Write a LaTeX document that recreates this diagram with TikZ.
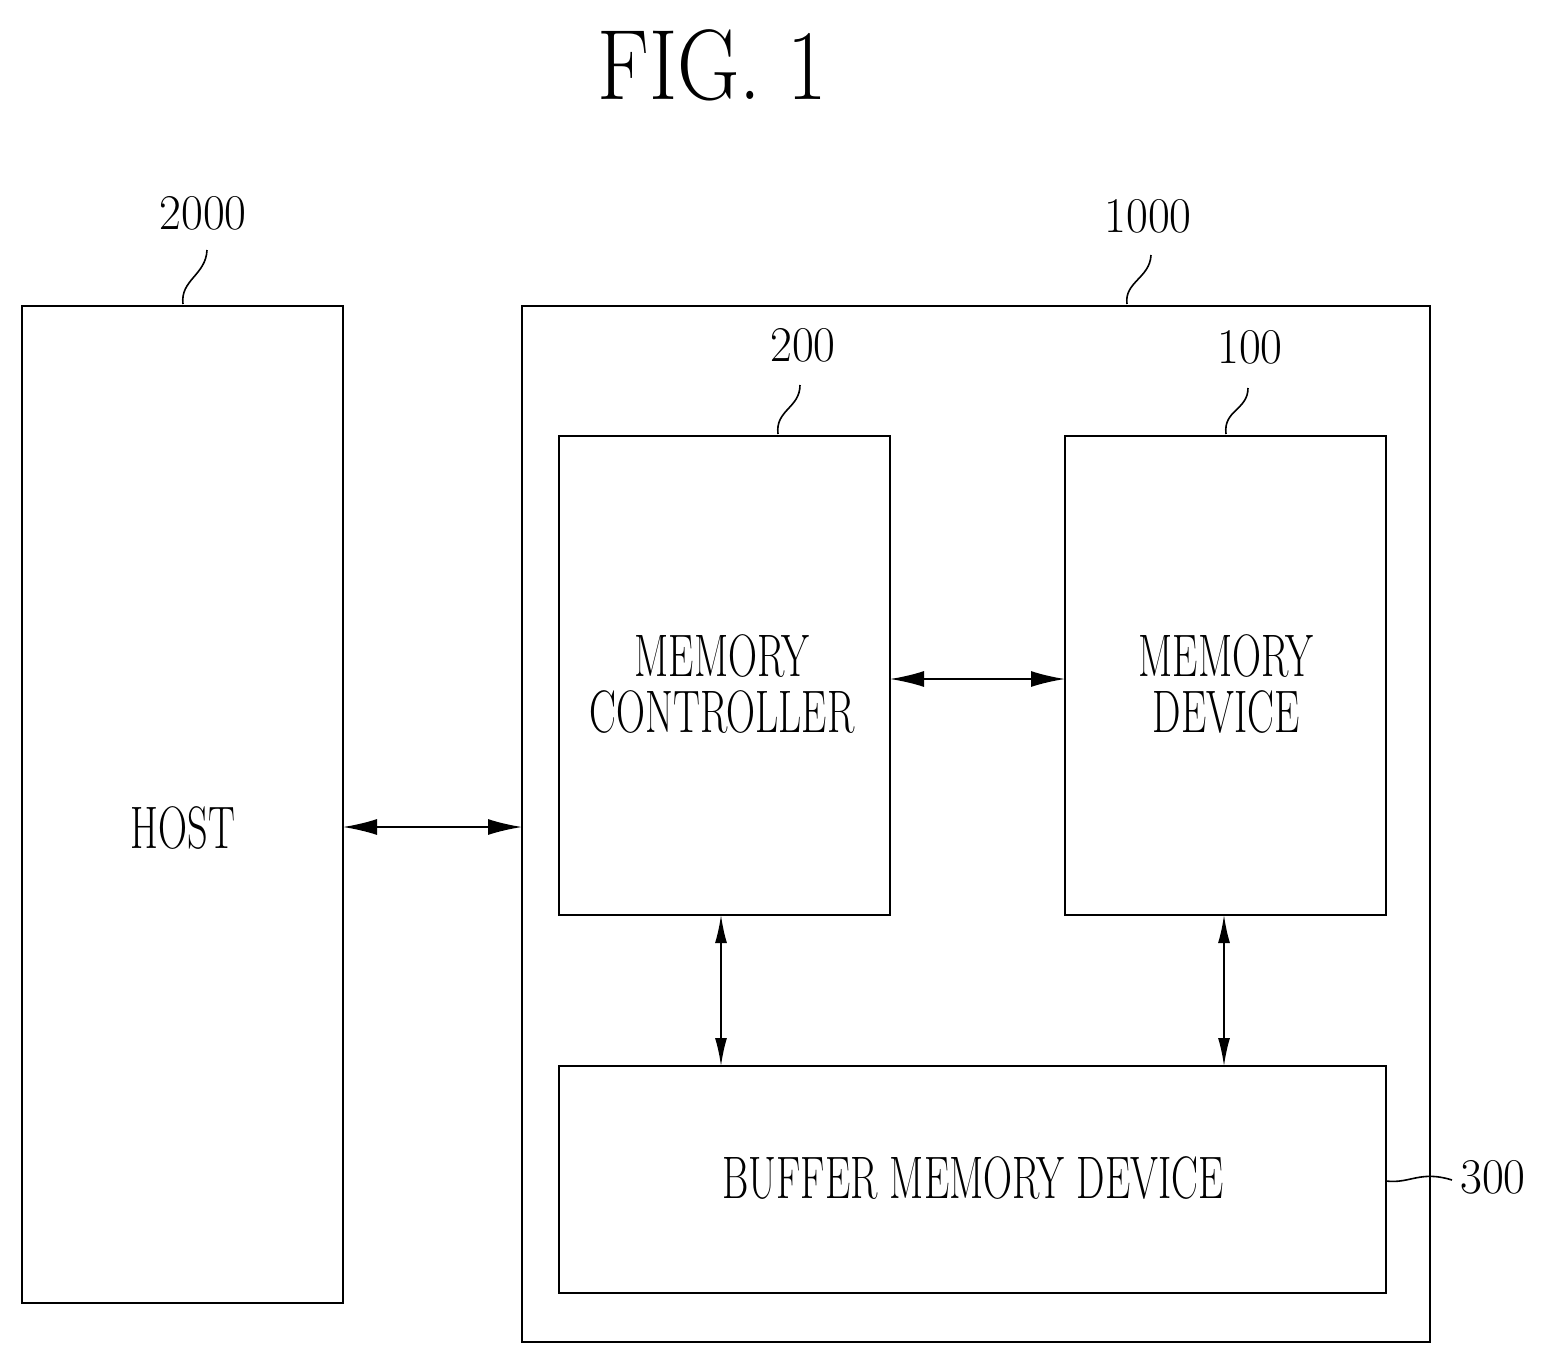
\documentclass[tikz,border=0pt]{standalone}
\usetikzlibrary{arrows.meta}
\begin{document}
\begin{tikzpicture}[x=1pt,y=-1pt,
 box/.style={draw,line width=2.2pt},
 lbl/.style={font=\fontsize{60}{64}\selectfont,xscale=0.67,align=center},
 num/.style={font=\fontsize{50}{54}\selectfont,xscale=0.95},
 arr/.style={line width=1.8pt,{Latex[length=34pt,width=16pt]}-{Latex[length=34pt,width=16pt]}},
 varr/.style={line width=1.8pt,{Latex[length=28pt,width=12pt]}-{Latex[length=28pt,width=12pt]}},
 sq/.style={line width=1.6pt}]
\useasboundingbox (0,0) rectangle (1550,1365);
\node[font=\fontsize{100}{104}\selectfont,xscale=0.86] (title) at (712,65) {FIG. 1};
\draw[box] (22,306) rectangle (343,1303);
\node[lbl] (host) at (183,828) {HOST};
\draw[box] (522,306) rectangle (1430,1342);
\draw[box] (559,436) rectangle (890,915);
\node[lbl] (mc) at (722,684) {MEMORY\\[-8pt]CONTROLLER};
\draw[box] (1065,436) rectangle (1386,915);
\node[lbl] (md) at (1226,684) {MEMORY\\[-8pt]DEVICE};
\draw[box] (559,1066) rectangle (1386,1293);
\node[lbl] (buf) at (973,1178) {BUFFER MEMORY DEVICE};
\coordinate (h) at (343,827); \coordinate (s) at (522,827);
\draw[arr] (h) -- (s);
\coordinate (a1) at (890,679); \coordinate (a2) at (1065,679);
\draw[arr] (a1) -- (a2);
\coordinate (v1) at (721,915); \coordinate (v2) at (721,1066);
\draw[varr] (v1) -- (v2);
\coordinate (w1) at (1224,915); \coordinate (w2) at (1224,1066);
\draw[varr] (w1) -- (w2);
\node[num] (n2000) at (203,213) {2000};
\node[num] (n1000) at (1148,216) {1000};
\node[num] (n200) at (803,345) {200};
\node[num] (n100) at (1250,347) {100};
\node[num] (n300) at (1493,1177) {300};
\draw[sq] (183,304) .. controls (180,280) and (206,275) .. (207,250);
\draw[sq] (1127,304) .. controls (1124,282) and (1150,278) .. (1151,255);
\draw[sq] (778,434) .. controls (775,410) and (800,408) .. (800,385);
\draw[sq] (1226,434) .. controls (1223,410) and (1248,410) .. (1248,388);
\draw[sq] (1386,1181) .. controls (1410,1184) and (1420,1170) .. (1452,1180);
\end{tikzpicture}
\end{document}
